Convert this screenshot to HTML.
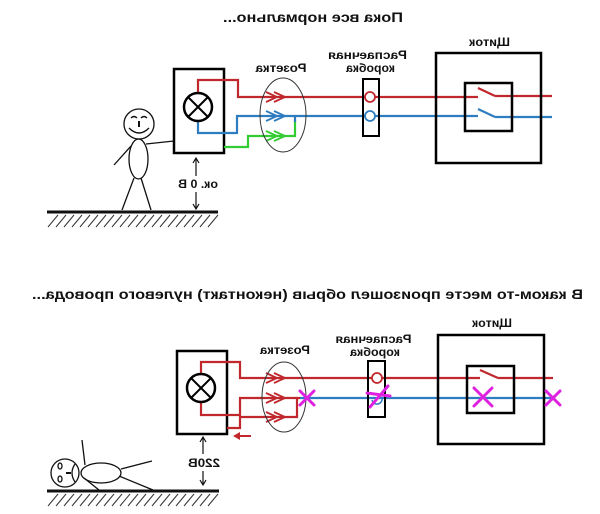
<!DOCTYPE html>
<html><head><meta charset="utf-8"><style>
html,body{margin:0;padding:0;background:#fff;}
svg{display:block;}
text{font-family:"Liberation Sans",Arial,sans-serif;fill:#111;}
</style></head><body>
<svg width="600" height="514" viewBox="0 0 600 514" xmlns="http://www.w3.org/2000/svg">
<rect width="600" height="514" fill="#fff"/>

<!-- ============ TOP ============ -->
<g transform="scale(-1,1)">
  <text x="-313" y="22" text-anchor="middle" font-size="14" font-weight="bold" textLength="180" lengthAdjust="spacingAndGlyphs">Пока все нормально...</text>
  <text x="-281" y="72" text-anchor="middle" font-size="12" font-weight="bold" textLength="51" lengthAdjust="spacingAndGlyphs">Розетка</text>
  <text x="-367.5" y="59" text-anchor="middle" font-size="12" font-weight="bold" textLength="79" lengthAdjust="spacingAndGlyphs">Распаечная</text>
  <text x="-370.5" y="72" text-anchor="middle" font-size="12" font-weight="bold" textLength="49" lengthAdjust="spacingAndGlyphs">коробка</text>
  <text x="-489.5" y="46" text-anchor="middle" font-size="12" font-weight="bold" textLength="41" lengthAdjust="spacingAndGlyphs">Щиток</text>
  <text x="-198" y="188" text-anchor="middle" font-size="12" font-weight="bold" textLength="40" lengthAdjust="spacingAndGlyphs">ок. 0 В</text>
</g>

<!-- appliance box -->
<rect x="174" y="69" width="50" height="84" fill="none" stroke="#000" stroke-width="2.5"/>
<!-- wires -->
<path d="M198,93 V80 H238 V97 H478 M495,96 H552" fill="none" stroke="#c0282d" stroke-width="2.2"/>
<path d="M478,88 L495,96" stroke="#c0282d" stroke-width="2.2"/>
<path d="M198,121 V133 H237 V116 H478 M495,117 H552" fill="none" stroke="#2e7dc0" stroke-width="2.2"/>
<path d="M478,109 L495,117" stroke="#2e7dc0" stroke-width="2.2"/>
<path d="M224,147 H248 V136 H295 V120" fill="none" stroke="#33cc33" stroke-width="2.2"/>
<path d="M295,116 V122" stroke="#2e7dc0" stroke-width="2.2"/>
<!-- chevrons -->
<path d="M266,92 L277,97 L266,102 M274,92 L285,97 L274,102" fill="none" stroke="#c0282d" stroke-width="1.8"/>
<path d="M266,111 L277,116 L266,121 M274,111 L285,116 L274,121" fill="none" stroke="#2e7dc0" stroke-width="1.8"/>
<path d="M266,131 L277,136 L266,141 M274,131 L285,136 L274,141" fill="none" stroke="#33cc33" stroke-width="1.8"/>
<!-- lamp -->
<circle cx="198" cy="107" r="14" fill="#fff" stroke="#000" stroke-width="2.5"/>
<path d="M188,97 L208,117 M208,97 L188,117" stroke="#000" stroke-width="2"/>
<!-- socket ellipse -->
<ellipse cx="283" cy="115" rx="23" ry="37" fill="none" stroke="#333" stroke-width="1"/>
<!-- junction box -->
<rect x="363" y="79" width="16" height="57" fill="none" stroke="#000" stroke-width="2"/>
<circle cx="370" cy="97" r="5" fill="#fff" stroke="#c0282d" stroke-width="1.8"/>
<circle cx="370" cy="116" r="5" fill="#fff" stroke="#2e7dc0" stroke-width="1.8"/>
<!-- shitok -->
<rect x="436" y="53" width="105" height="110" fill="none" stroke="#000" stroke-width="2.5"/>
<rect x="465" y="83" width="47" height="48" fill="none" stroke="#000" stroke-width="2.5"/>
<!-- person -->
<g fill="none" stroke="#111" stroke-width="1.3">
  <circle cx="139" cy="124" r="15"/>
  <path d="M131,118 Q134,115 137,118 M141,118 Q144,115 147,118"/>
  <path d="M139,121 V127" stroke-width="2"/>
  <path d="M129,128 Q139,138 149,128"/>
  <ellipse cx="138.5" cy="159" rx="9.5" ry="20"/>
  <path d="M131,146 L114,165 M146,144 L174,141 M134,178 L122,210 M141,178 L151,210"/>
</g>
<!-- voltage arrows -->
<g stroke="#111" stroke-width="1.2" fill="none">
  <path d="M196,158 V176 M193,163 L196,158 L199,163"/>
  <path d="M196,192 V209 M193,204 L196,209 L199,204"/>
</g>
<!-- ground -->
<path d="M47,212 H218" stroke="#111" stroke-width="3"/>
<path d="M48,227 L58,215 M56,227 L66,215 M64,227 L74,215 M72,227 L82,215 M80,227 L90,215 M88,227 L98,215 M96,227 L106,215 M104,227 L114,215 M112,227 L122,215 M120,227 L130,215 M128,227 L138,215 M136,227 L146,215 M144,227 L154,215 M152,227 L162,215 M160,227 L170,215 M168,227 L178,215 M176,227 L186,215 M184,227 L194,215 M192,227 L202,215 M200,227 L210,215 M208,227 L218,215" stroke="#333" stroke-width="1"/>

<!-- ============ BOTTOM ============ -->
<g transform="scale(-1,1)">
  <text x="-307.5" y="299" text-anchor="middle" font-size="14" font-weight="bold" textLength="551" lengthAdjust="spacingAndGlyphs">В каком-то месте произошел обрыв (неконтакт) нулевого провода...</text>
  <text x="-285" y="354" text-anchor="middle" font-size="12" font-weight="bold" textLength="50" lengthAdjust="spacingAndGlyphs">Розетка</text>
  <text x="-373.5" y="343" text-anchor="middle" font-size="12" font-weight="bold" textLength="76" lengthAdjust="spacingAndGlyphs">Распаечная</text>
  <text x="-375" y="356" text-anchor="middle" font-size="12" font-weight="bold" textLength="50" lengthAdjust="spacingAndGlyphs">коробка</text>
  <text x="-492" y="327" text-anchor="middle" font-size="12" font-weight="bold" textLength="40" lengthAdjust="spacingAndGlyphs">Щиток</text>
  <text x="-204" y="467" text-anchor="middle" font-size="12" font-weight="bold" textLength="32" lengthAdjust="spacingAndGlyphs">220В</text>
</g>

<rect x="177" y="351" width="50" height="83" fill="none" stroke="#000" stroke-width="2.5"/>
<path d="M201,374 V362 H240 V378 H480 M498,378 H553" fill="none" stroke="#c0282d" stroke-width="2.2"/>
<path d="M480,370 L498,378" stroke="#c0282d" stroke-width="2.2"/>
<path d="M201,402 V415 H240 V398 H300" fill="none" stroke="#c0282d" stroke-width="2.2"/>
<path d="M227,428 H240 V417 H297 V398" fill="none" stroke="#c0282d" stroke-width="2.2"/>
<path d="M300,398 H553" stroke="#2e7dc0" stroke-width="2.2"/>
<!-- red arrow left -->
<path d="M251,436 H238" stroke="#c0282d" stroke-width="2"/>
<path d="M233,436 L240,432 L240,440 Z" fill="#c0282d"/>
<!-- chevrons -->
<g fill="none" stroke="#c0282d" stroke-width="1.8">
  <path d="M266,373 L277,378 L266,383 M274,373 L285,378 L274,383"/>
  <path d="M266,393 L277,398 L266,403 M274,393 L285,398 L274,403"/>
  <path d="M266,412 L277,417 L266,422 M274,412 L285,417 L274,422"/>
</g>
<circle cx="201" cy="388" r="14" fill="#fff" stroke="#000" stroke-width="2.5"/>
<path d="M191,378 L211,398 M211,378 L191,398" stroke="#000" stroke-width="2"/>
<ellipse cx="284" cy="397" rx="22" ry="35" fill="none" stroke="#333" stroke-width="1"/>
<rect x="368" y="361" width="17" height="56" fill="none" stroke="#000" stroke-width="2"/>
<circle cx="377" cy="378" r="5" fill="#fff" stroke="#c0282d" stroke-width="1.8"/>
<path d="M372,400 A5,5 0 0 0 382,398" fill="none" stroke="#2e7dc0" stroke-width="1.5"/>
<rect x="438" y="335" width="106" height="109" fill="none" stroke="#000" stroke-width="2.5"/>
<rect x="467" y="366" width="47" height="47" fill="none" stroke="#000" stroke-width="2.5"/>
<!-- magenta crosses -->
<g stroke="#e020e0" stroke-width="3" stroke-linecap="round">
  <path d="M300,391 L314,405 M314,391 L300,405"/>
  <path d="M367,393 L390,396 M370,407 L388,386"/>
  <path d="M474,388 L492,406 M492,388 L474,406"/>
  <path d="M546,391 L560,405 M560,391 L546,405"/>
</g>
<!-- lying person -->
<g fill="none" stroke="#111" stroke-width="1.3">
  <circle cx="65" cy="473" r="14"/>
  <ellipse cx="60" cy="466" rx="2" ry="3"/>
  <ellipse cx="60" cy="479" rx="2" ry="3"/>
  <path d="M66,473 H71" stroke-width="2"/>
  <path d="M75,464 Q69,473 75,482"/>
  <ellipse cx="101" cy="473" rx="20" ry="10"/>
  <path d="M85,465 L82,440 M121,469 L152,461 M119,476 L153,490 M84,478 L99,490"/>
</g>
<g stroke="#111" stroke-width="1.2" fill="none">
  <path d="M203,437 V454 M200,442 L203,437 L206,442"/>
  <path d="M203,471 V485 M200,480 L203,485 L206,480"/>
</g>
<path d="M47,491 H219" stroke="#111" stroke-width="3"/>
<path d="M48,506 L58,494 M56,506 L66,494 M64,506 L74,494 M72,506 L82,494 M80,506 L90,494 M88,506 L98,494 M96,506 L106,494 M104,506 L114,494 M112,506 L122,494 M120,506 L130,494 M128,506 L138,494 M136,506 L146,494 M144,506 L154,494 M152,506 L162,494 M160,506 L170,494 M168,506 L178,494 M176,506 L186,494 M184,506 L194,494 M192,506 L202,494 M200,506 L210,494 M208,506 L218,494" stroke="#333" stroke-width="1"/>
</svg>
</body></html>
